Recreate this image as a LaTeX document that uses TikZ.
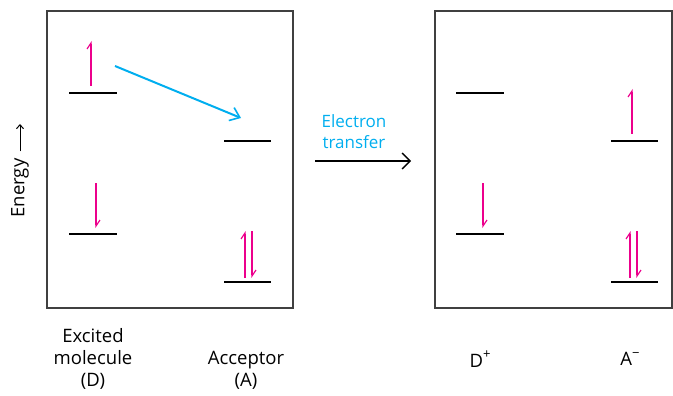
\documentclass[tikz,border=0pt]{standalone}
\usepackage{fontspec}
\setmainfont{Open Sans}
\usetikzlibrary{arrows.meta}
\definecolor{ecyan}{RGB}{0,174,239}
\definecolor{emag}{RGB}{236,0,140}
\tikzset{
  x=1pt,y=-1pt,
  frame/.style={draw=black!75,line width=1.3pt},
  level/.style={line width=2.4pt},
  spin/.style={draw=emag,line width=1.2pt,-{Straight Barb[left,length=6pt,width=8pt]}},
  lbl/.style={font=\fontsize{18.5}{22}\selectfont,align=center,inner sep=0pt},
}
\begin{document}
\begin{tikzpicture}
\useasboundingbox (0,0) rectangle (673,396);
% boxes
\draw[frame] (47,11) rectangle (293,308);
\draw[frame] (435,11) rectangle (672,308);
% levels left
\coordinate (d1a) at (69,93); \coordinate (d1b) at (117,93);
\coordinate (d2a) at (69,234); \coordinate (d2b) at (117,234);
\coordinate (a1a) at (224,141); \coordinate (a1b) at (271,141);
\coordinate (a2a) at (224,282); \coordinate (a2b) at (271,282);
\draw[level] (d1a) -- (d1b);
\draw[level] (d2a) -- (d2b);
\draw[level] (a1a) -- (a1b);
\draw[level] (a2a) -- (a2b);
% levels right
\coordinate (p1a) at (456,93); \coordinate (p1b) at (504,93);
\coordinate (p2a) at (456,234); \coordinate (p2b) at (504,234);
\coordinate (m1a) at (611,141); \coordinate (m1b) at (658,141);
\coordinate (m2a) at (611,282); \coordinate (m2b) at (658,282);
\draw[level] (p1a) -- (p1b);
\draw[level] (p2a) -- (p2b);
\draw[level] (m1a) -- (m1b);
\draw[level] (m2a) -- (m2b);
% spins left
\coordinate (s1s) at (91,86); \coordinate (s1e) at (91,41);
\draw[spin] (s1s) -- (s1e);
\coordinate (s2s) at (96,183); \coordinate (s2e) at (96,228);
\draw[spin] (s2s) -- (s2e);
\coordinate (s3s) at (245,278); \coordinate (s3e) at (245,231);
\draw[spin] (s3s) -- (s3e);
\coordinate (s4s) at (252,231); \coordinate (s4e) at (252,278);
\draw[spin] (s4s) -- (s4e);
% spins right
\coordinate (r2s) at (483,183); \coordinate (r2e) at (483,228);
\draw[spin] (r2s) -- (r2e);
\coordinate (r1s) at (632,134); \coordinate (r1e) at (632,89);
\draw[spin] (r1s) -- (r1e);
\coordinate (r3s) at (630,278); \coordinate (r3e) at (630,231);
\draw[spin] (r3s) -- (r3e);
\coordinate (r4s) at (637,231); \coordinate (r4e) at (637,278);
\draw[spin] (r4s) -- (r4e);
% blue transfer arrow
\coordinate (bs) at (115,66); \coordinate (be) at (241,118);
\draw[ecyan,line width=2pt,-{Straight Barb[length=9pt,width=14pt,line width=1.6pt]}] (bs) -- (be);
% electron transfer
\node[lbl,text=ecyan,font=\fontsize{17}{21}\selectfont] (et) at (354,132) {Electron\\transfer};
\coordinate (ts) at (315,161); \coordinate (te) at (411,161);
\draw[line width=1.6pt,-{Straight Barb[length=8pt,width=16pt,line width=1.3pt]}] (ts) -- (te);
% energy
\node[lbl,rotate=90] (en) at (20,188) {Energy};
\coordinate (ee) at (20,124);
\draw[line width=1pt,-{Straight Barb[length=4pt,width=7pt]}] (en.east) ++(0,-7) -- (ee);
% bottom labels
\node[lbl] (dlab) at (93,359) {Excited\\molecule\\(D)};
\node[lbl] (alab) at (246,370) {Acceptor\\(A)};
\node[lbl] (dp) at (480,359) {D\raisebox{0.45em}{\fontsize{13}{13}\selectfont +}};
\node[lbl] (am) at (630,359) {A\raisebox{0.45em}{\fontsize{13}{13}\selectfont −}};
\end{tikzpicture}
\end{document}
